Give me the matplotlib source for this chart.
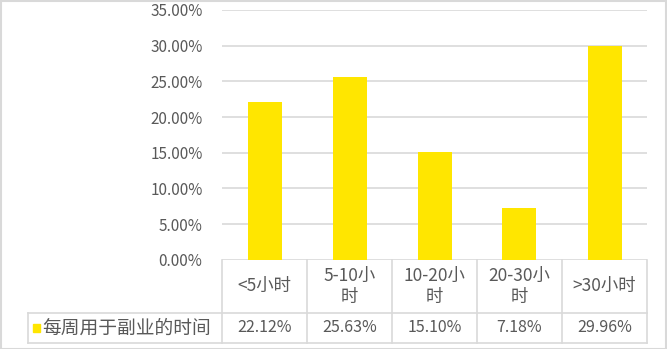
import matplotlib.pyplot as plt
import matplotlib.transforms as mtrans
from matplotlib.patches import Rectangle

plt.rcParams['font.family'] = ['Noto Sans CJK SC', 'DejaVu Sans']

categories = ['<5小时', '5-10小\n时', '10-20小\n时', '20-30小\n时', '>30小时']
values = [22.12, 25.63, 15.10, 7.18, 29.96]
series_name = '每周用于副业的时间'
yticks = [0, 5, 10, 15, 20, 25, 30, 35]

BAR = '#FFE600'
GRID = '#D9D9D9'
TXT = '#595959'
W, H = 667, 349

fig = plt.figure(figsize=(W / 100, H / 100), dpi=100)
ax_left, ax_right, ax_top, ax_bot = 222, 647, 10, 259.7
ax = fig.add_axes([ax_left / W, 1 - ax_bot / H, (ax_right - ax_left) / W, (ax_bot - ax_top) / H])

x = list(range(len(categories)))
ax.bar(x, values, width=0.4, color=BAR, zorder=3)
ax.set_xlim(-0.5, len(categories) - 0.5)
ax.set_ylim(0, 35)
ax.set_yticks(yticks)
ax.set_yticklabels(['%.2f%%' % t for t in yticks], color=TXT, fontsize=11)
ax.yaxis.grid(True, color=GRID, lw=1.2, zorder=0)
ax.set_xticks([])
ax.tick_params(axis='y', length=0, pad=14)
for s in ax.spines.values():
    s.set_visible(False)

# data table under the plot
tr = mtrans.blended_transform_factory(ax.transData, fig.transFigure)
row_top = 1 - ax_bot / H
row_mid = 1 - 313 / H
row_bot = 1 - 343 / H
leg_left = 28 / W
for i in range(len(categories) + 1):
    ax.plot([i - 0.5, i - 0.5], [row_top, row_bot], color=GRID, lw=1.2,
            transform=tr, clip_on=False)
fig.add_artist(plt.Line2D([leg_left, ax_right / W], [row_mid, row_mid], color=GRID, lw=1.2))
fig.add_artist(plt.Line2D([leg_left, ax_right / W], [row_bot, row_bot], color=GRID, lw=1.2))
fig.add_artist(plt.Line2D([leg_left, leg_left], [row_mid, row_bot], color=GRID, lw=1.2))

for i, (c, v) in enumerate(zip(categories, values)):
    ax.text(i, (row_top + row_mid) / 2, c, transform=tr, ha='center', va='center',
            color=TXT, fontsize=12.5, linespacing=1.25)
    ax.text(i, (row_mid + row_bot) / 2, '%.2f%%' % v, transform=tr, ha='center',
            va='center', color=TXT, fontsize=11.5)

fig.add_artist(Rectangle((33 / W, (row_mid + row_bot) / 2 - 4 / H), 7 / W, 8 / H,
                         color=BAR, transform=fig.transFigure))
fig.text(42 / W, (row_mid + row_bot) / 2, series_name, ha='left', va='center',
         color=TXT, fontsize=13.5)

# outer border
fig.add_artist(Rectangle((0.5 / W, 0.5 / H), 1 - 1.5 / W, 1 - 1.5 / H, fill=False,
                         edgecolor=GRID, lw=1.5, transform=fig.transFigure))

fig.savefig('out.png', dpi=100)
